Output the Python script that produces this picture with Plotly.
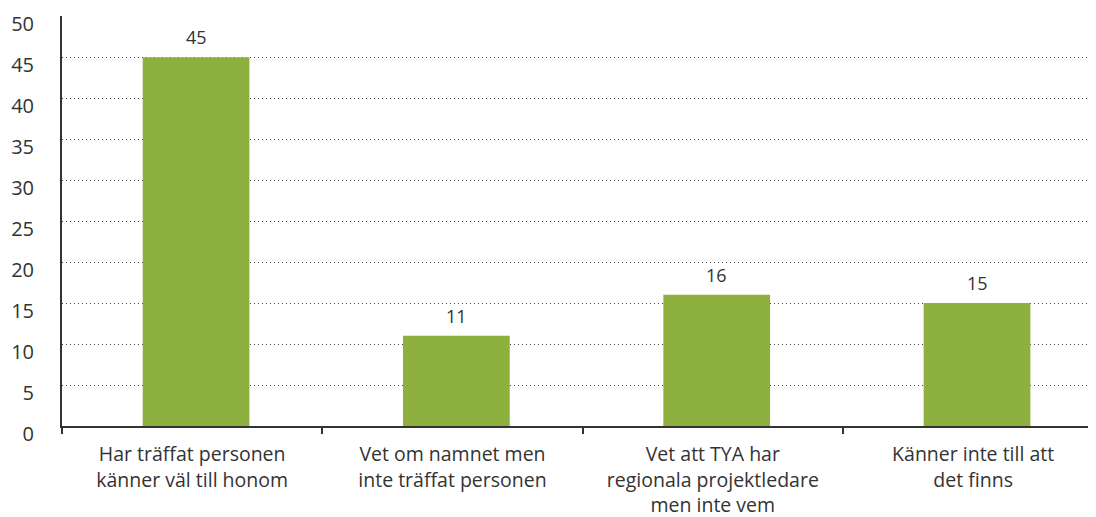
import plotly.graph_objects as go

categories = [
    "Har träffat personen<br>känner väl till honom",
    "Vet om namnet men<br>inte träffat personen",
    "Vet att TYA har<br>regionala projektledare<br>men inte vem",
    "Känner inte till att<br>det finns",
]
values = [45, 11, 16, 15]
y_ticks = [0, 5, 10, 15, 20, 25, 30, 35, 40, 45, 50]

font_family = "'Open Sans', sans-serif"
text_color = "#333333"

fig = go.Figure(
    go.Bar(
        x=categories,
        y=values,
        marker=dict(color="#8db03f", line=dict(width=0)),
        width=0.41,
        offset=-0.19,
        cliponaxis=False,
    )
)

for c, v in zip(categories, values):
    fig.add_annotation(
        x=c, y=v, text=str(v), showarrow=False,
        xanchor="center", yanchor="bottom", yshift=6, xshift=4,
        font=dict(size=18, color=text_color, family=font_family),
    )

# page body has an 8px default margin, so the figure is sized to end at the window edge
fig.update_layout(
    width=1088,
    height=509,
    margin=dict(l=54, r=0, t=8, b=91, autoexpand=False),
    plot_bgcolor="white",
    paper_bgcolor="white",
    showlegend=False,
    font=dict(family=font_family, color=text_color),
)

fig.update_xaxes(
    type="category",
    range=[-0.5, 3.472],
    tickson="boundaries",
    ticks="outside",
    ticklen=6,
    tickcolor=text_color,
    tickwidth=1.5,
    showline=True,
    linecolor=text_color,
    linewidth=1.5,
    showgrid=False,
    automargin=False,
    tickfont=dict(size=19.5, color=text_color),
    ticklabelstandoff=10,
)

fig.update_yaxes(
    range=[0, 50.02],
    tickvals=y_ticks,
    ticktext=[str(t) for t in y_ticks],
    showline=True,
    linecolor=text_color,
    linewidth=2,
    ticks="",
    showgrid=True,
    gridcolor="#444444",
    gridwidth=1,
    griddash="1px,3px",
    zeroline=False,
    automargin=False,
    tickfont=dict(size=20, color=text_color),
    ticklabelstandoff=22,
    ticklabelshift=8,
)

fig.write_html("out.html")
